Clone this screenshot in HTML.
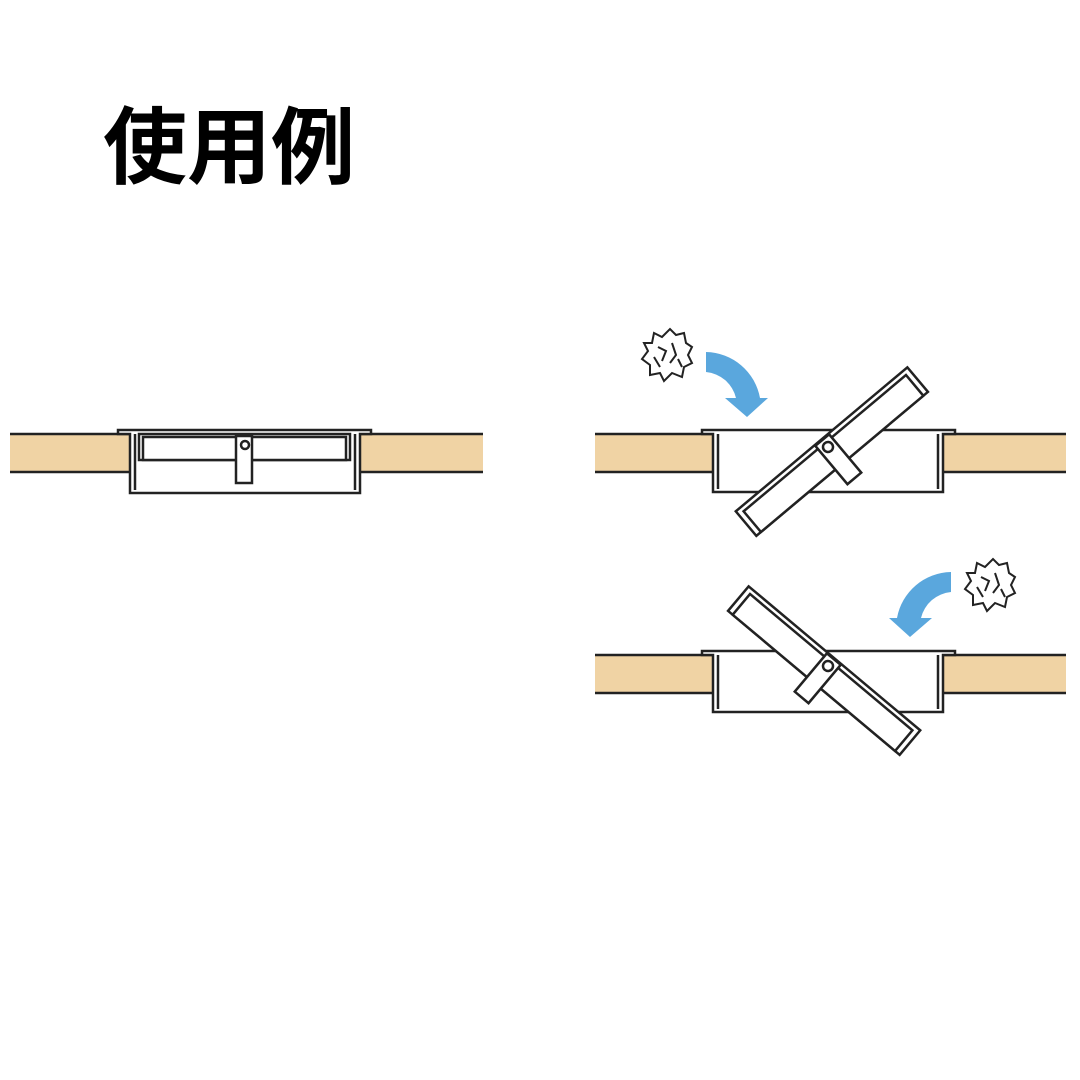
<!DOCTYPE html>
<html><head><meta charset="utf-8"><style>html,body{margin:0;padding:0;background:#fff}svg{display:block}</style></head>
<body>
<svg width="1080" height="1080" viewBox="0 0 1080 1080" xmlns="http://www.w3.org/2000/svg">
<defs>
<g id="lid" stroke="#222" stroke-width="2.5" fill="#fff">
  <rect x="-112" y="-10" width="224" height="32"/>
  <rect x="-106" y="-5" width="212" height="27"/>
  <rect x="-9" y="-9" width="18" height="50"/>
  <circle cx="0" cy="0" r="5"/>
</g>
<g id="ball" fill="#fff" stroke="#222" stroke-width="2">
  <path d="M-14,-22 L-6,-18 L2,-26 L8,-20 L16,-22 L18,-12 L24,-8 L20,0 L24,8 L16,12 L14,22 L4,18 L-4,26 L-8,18 L-18,20 L-18,10 L-26,4 L-20,-4 L-24,-12 L-16,-12 Z"/>
  <path d="M-10,-8 L-2,-4 L-6,6 M4,-12 L8,0 L2,8 M10,4 L14,12 M-14,2 L-8,12" fill="none"/>
</g>
</defs>
<text x="103" y="177" font-family="'Liberation Sans','Noto Sans CJK JP',sans-serif" font-weight="bold" font-size="84" fill="#000">使用例</text>

<!-- left static -->
<g stroke="#222" stroke-width="2.5">
  <rect x="10" y="434" width="120" height="38" fill="#f0d3a4" stroke="none"/>
  <line x1="10" y1="434" x2="130" y2="434"/><line x1="10" y1="472" x2="130" y2="472"/>
  <rect x="360" y="434" width="123" height="38" fill="#f0d3a4" stroke="none"/>
  <line x1="360" y1="434" x2="483" y2="434"/><line x1="360" y1="472" x2="483" y2="472"/>
  <path d="M118,434 L118,430 L371,430 L371,434 L360,434 L360,493 L130,493 L130,434 Z" fill="#fff"/>
  <line x1="135" y1="434" x2="135" y2="490"/><line x1="355" y1="434" x2="355" y2="490"/>
  <rect x="139" y="434" width="211" height="26" fill="#fff"/>
  <rect x="143" y="437" width="203" height="23" fill="#fff"/>
  <rect x="236" y="436" width="16" height="47" fill="#fff"/>
  <circle cx="245" cy="445" r="4" fill="#fff"/>
</g>

<!-- right top -->
<g stroke="#222" stroke-width="2.5">
  <rect x="595" y="434" width="118" height="38" fill="#f0d3a4" stroke="none"/>
  <line x1="595" y1="434" x2="713" y2="434"/><line x1="595" y1="472" x2="713" y2="472"/>
  <rect x="943" y="434" width="123" height="38" fill="#f0d3a4" stroke="none"/>
  <line x1="943" y1="434" x2="1066" y2="434"/><line x1="943" y1="472" x2="1066" y2="472"/>
  <path d="M702,434 L702,430 L955,430 L955,434 L943,434 L943,492 L713,492 L713,434 Z" fill="#fff"/>
  <line x1="718" y1="434" x2="718" y2="489"/><line x1="938" y1="434" x2="938" y2="489"/>
</g>
<use href="#lid" transform="translate(828,447) rotate(-40)"/>
<path d="M706,352 A56,56 0 0 1 760,398 L768,398 L747,417 L725,398 L736,398 A34,34 0 0 0 706,372 Z" fill="#5aa7dd"/>
<use href="#ball" transform="translate(668,355)"/>

<!-- right bottom -->
<g stroke="#222" stroke-width="2.5">
  <rect x="595" y="655" width="118" height="38" fill="#f0d3a4" stroke="none"/>
  <line x1="595" y1="655" x2="713" y2="655"/><line x1="595" y1="693" x2="713" y2="693"/>
  <rect x="943" y="655" width="123" height="38" fill="#f0d3a4" stroke="none"/>
  <line x1="943" y1="655" x2="1066" y2="655"/><line x1="943" y1="693" x2="1066" y2="693"/>
  <path d="M702,655 L702,651 L955,651 L955,655 L943,655 L943,712 L713,712 L713,655 Z" fill="#fff"/>
  <line x1="718" y1="655" x2="718" y2="709"/><line x1="938" y1="655" x2="938" y2="709"/>
</g>
<use href="#lid" transform="translate(828,666) rotate(40)"/>
<path d="M951,572 A56,56 0 0 0 897,618 L889,618 L910,637 L932,618 L921,618 A34,34 0 0 1 951,592 Z" fill="#5aa7dd"/>
<use href="#ball" transform="translate(991,585)"/>
</svg>
</body></html>
